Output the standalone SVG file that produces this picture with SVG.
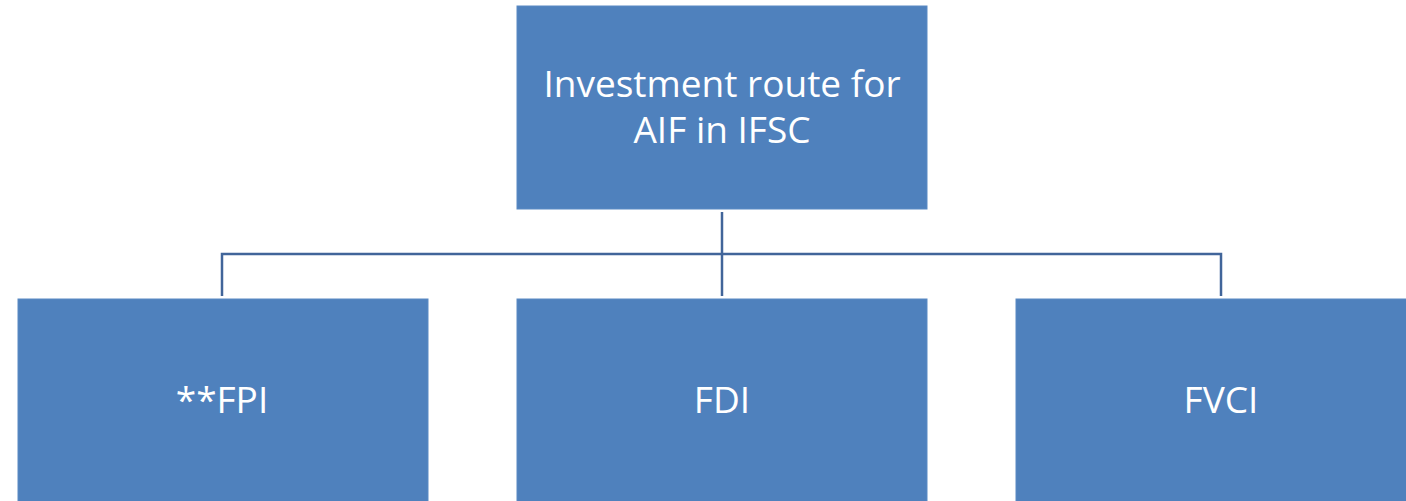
<svg xmlns="http://www.w3.org/2000/svg" width="1406" height="501" viewBox="0 0 1406 501">
<style>
.box{fill:#4F81BD;stroke:#5a8ac4;stroke-width:1}
.lbl{font-family:"Open Sans","Liberation Sans",sans-serif;font-size:37px;fill:#ffffff;text-anchor:middle}
.conn{fill:none;stroke:#41659a;stroke-width:2.5}
</style>
<rect width="1406" height="501" fill="#ffffff"/>
<g id="connectors">
<path class="conn" d="M722 212 V296"/>
<path class="conn" d="M222 296 V254 H1221 V296"/>
</g>
<g id="root">
<rect class="box" x="517" y="6" width="410" height="203"/>
<text class="lbl" x="722" y="97">Investment route for</text>
<text class="lbl" x="722" y="143">AIF in IFSC</text>
</g>
<g id="fpi">
<rect class="box" x="18" y="299" width="410" height="210"/>
<text class="lbl" x="222" y="413">**FPI</text>
</g>
<g id="fdi">
<rect class="box" x="517" y="299" width="410" height="210"/>
<text class="lbl" x="722" y="413">FDI</text>
</g>
<g id="fvci">
<rect class="box" x="1016" y="299" width="410" height="210"/>
<text class="lbl" x="1221" y="413">FVCI</text>
</g>
</svg>
